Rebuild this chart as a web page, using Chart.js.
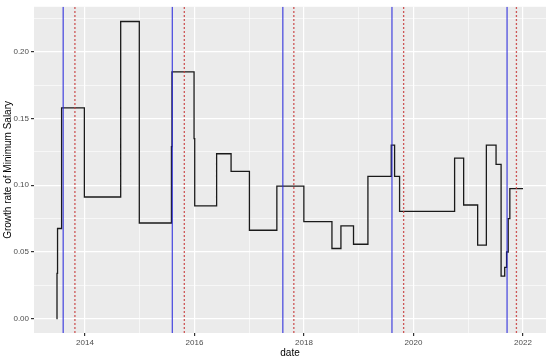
<!DOCTYPE html>
<html>
<head>
<meta charset="utf-8">
<script src="https://cdn.jsdelivr.net/npm/chart.js@4.4.1/dist/chart.umd.min.js"></script>
<style>
  html, body { margin: 0; padding: 0; background: #fff; }
  #chart { display: block; }
</style>
</head>
<body>
<canvas id="chart" width="550" height="361"></canvas>
<script>
// Step series: each rate holds from its date until the next date
const dates = [2013.48, 2013.49, 2013.50, 2013.574, 2013.99, 2014.653, 2014.993, 2015.58, 2015.59,
    2015.993, 2016.005, 2016.405, 2016.669, 2017.004, 2017.505, 2017.998, 2018.511, 2018.675,
    2018.905, 2019.168, 2019.594, 2019.655, 2019.746, 2020.751, 2020.916, 2021.172, 2021.331,
    2021.508, 2021.600, 2021.666, 2021.70, 2021.73, 2021.76, 2022.0];
const rates = [0, 0.034, 0.0676, 0.158, 0.0912, 0.2227, 0.0717, 0.129, 0.185,
    0.135, 0.0845, 0.1236, 0.1104, 0.0663, 0.0994, 0.0728, 0.0526, 0.0695,
    0.0558, 0.1066, 0.130, 0.1066, 0.0805, 0.1203, 0.0852, 0.0551, 0.130,
    0.1156, 0.0319, 0.0384, 0.05, 0.075, 0.0975, 0.0975];

// Vertical reference lines
const blueDates = [2013.603, 2015.596, 2017.614, 2019.607, 2021.709];
const redDates = [2013.817, 2015.815, 2017.815, 2019.82, 2021.88];

const xMajorTicks = [2014, 2016, 2018, 2020, 2022];
const xMinorTicks = [2015, 2017, 2019, 2021];
const yMajorTicks = [0, 0.05, 0.10, 0.15, 0.20];
const yMinorTicks = [0.025, 0.075, 0.125, 0.175, 0.225];

const xMin = 2013.07, xMax = 2022.42;
const yMin = -0.0107, yMax = 0.2337;

function buildTicks(major, minor) {
    return major.map(v => ({ value: v, minor: false }))
        .concat(minor.map(v => ({ value: v, minor: true })))
        .sort((a, b) => a.value - b.value);
}

function verticalLine(d, color, dash) {
    return {
        data: [{ x: d, y: yMin }, { x: d, y: yMax }],
        borderColor: color,
        borderWidth: 1.3,
        borderDash: dash,
        pointRadius: 0,
        order: 0
    };
}

const panelBg = {
    id: 'panelBg',
    beforeDraw(chart) {
        const { ctx, chartArea: a } = chart;
        ctx.save();
        ctx.fillStyle = '#ebebeb';
        ctx.fillRect(a.left, a.top, a.right - a.left, a.bottom - a.top);
        ctx.restore();
    }
};

const gridStyle = {
    color: '#ffffff',
    lineWidth: ctx => (ctx.tick && ctx.tick.minor ? 0.6 : 1.2),
    tickColor: ctx => (ctx.tick && ctx.tick.minor ? 'rgba(0,0,0,0)' : '#333333'),
    tickLength: 3,
    drawTicks: true
};

const datasets = [{
    data: dates.map((d, i) => ({ x: d, y: rates[i] })),
    borderColor: '#1a1a1a',
    borderWidth: 1.3,
    stepped: 'before',
    pointRadius: 0,
    order: 1
}];
blueDates.forEach(d => datasets.push(verticalLine(d, 'rgba(40,40,220,0.8)', [])));
redDates.forEach(d => datasets.push(verticalLine(d, 'rgba(200,60,60,0.85)', [2, 2])));

new Chart(document.getElementById('chart'), {
    type: 'line',
    data: { datasets: datasets },
    plugins: [panelBg],
    options: {
        responsive: false,
        animation: false,
        layout: { padding: { top: 6, right: 4, left: 0, bottom: 0 } },
        plugins: { legend: { display: false }, tooltip: { enabled: false } },
        scales: {
            x: {
                type: 'linear',
                min: xMin,
                max: xMax,
                afterBuildTicks: scale => { scale.ticks = buildTicks(xMajorTicks, xMinorTicks); },
                afterFit: scale => { scale.height = 28; },
                grid: gridStyle,
                border: { display: false },
                ticks: {
                    autoSkip: false,
                    maxRotation: 0,
                    padding: 2,
                    color: '#4d4d4d',
                    font: { family: 'Liberation Sans', size: 8 },
                    callback: (v, i, ticks) => (ticks[i].minor ? '' : String(v))
                },
                title: {
                    display: true,
                    text: 'date',
                    color: '#000',
                    padding: { top: 0, bottom: 2 },
                    font: { family: 'Liberation Sans', size: 10 }
                }
            },
            y: {
                type: 'linear',
                min: yMin,
                max: yMax,
                afterBuildTicks: scale => { scale.ticks = buildTicks(yMajorTicks, yMinorTicks); },
                afterFit: scale => { scale.width = 34; },
                grid: gridStyle,
                border: { display: false },
                ticks: {
                    autoSkip: false,
                    padding: 2,
                    color: '#4d4d4d',
                    font: { family: 'Liberation Sans', size: 8 },
                    callback: (v, i, ticks) => (ticks[i].minor ? '' : v.toFixed(2))
                },
                title: {
                    display: true,
                    text: 'Growth rate of Minimum Salary',
                    color: '#000',
                    padding: { top: 2, bottom: 0 },
                    font: { family: 'Liberation Sans', size: 10 }
                }
            }
        }
    }
});
</script>
</body>
</html>
